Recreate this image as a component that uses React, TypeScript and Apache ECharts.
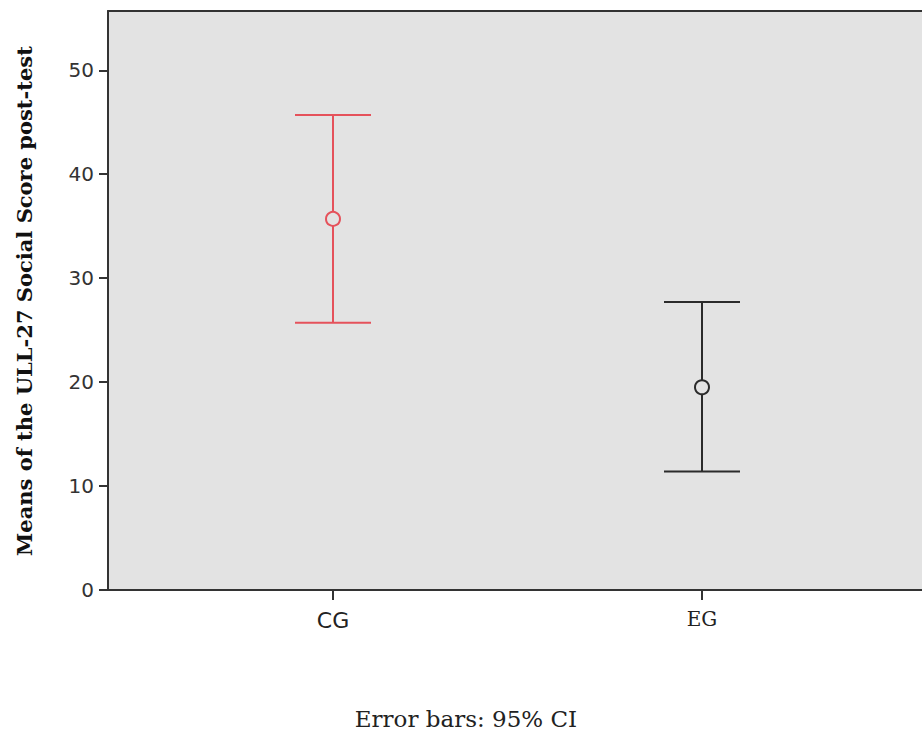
import React, { useEffect, useRef } from "react";
import * as echarts from "echarts";

const categories = ["CG", "EG"];
const means = [35.7, 19.5];
const lowerCI = [25.7, 11.4];
const upperCI = [45.7, 27.7];
const yTicks = [0, 10, 20, 30, 40, 50];
const groupColors = ["#e5525b", "#2b2b2b"];

export default function App() {
  const ref = useRef<HTMLDivElement>(null);
  useEffect(() => {
    if (!ref.current) return;
    const chart = echarts.init(ref.current, null, { renderer: "svg" });
    const xs = categories.map((_, i) => i + 1);
    const option: any = {
      animation: false,
      backgroundColor: "#ffffff",
      grid: {
        left: 108,
        top: 11,
        right: 0,
        bottom: 143,
        show: true,
        backgroundColor: "#e3e3e3",
        borderWidth: 0,
      },
      xAxis: [
        {
          type: "value",
          min: 1 - 225 / 369,
          max: 2 + 220 / 369,
          splitLine: { show: false },
          axisLine: { show: true, lineStyle: { color: "#333333", width: 2 } },
          axisTick: { show: true, length: 10, customValues: xs, lineStyle: { color: "#333333", width: 2 } },
          axisLabel: {
            customValues: xs,
            margin: 19,
            formatter: (v: number) => {
              const i = Math.round(v) - 1;
              return i === 0 ? "{a|" + categories[i] + "}" : "{b|" + categories[i] + "}";
            },
            rich: {
              a: { fontFamily: "DejaVu Sans", fontSize: 22, color: "#222" },
              b: { fontFamily: "DejaVu Serif", fontSize: 20, color: "#222" },
            },
          },
        },
        {
          type: "value",
          position: "top",
          min: 1 - 225 / 369,
          max: 2 + 220 / 369,
          splitLine: { show: false },
          axisLine: { show: true, lineStyle: { color: "#333333", width: 2 } },
          axisTick: { show: false },
          axisLabel: { show: false },
        },
      ],
      yAxis: {
        type: "value",
        min: 0,
        max: 55.7,
        interval: 10,
        splitLine: { show: false },
        axisLine: { show: true, lineStyle: { color: "#333333", width: 2 } },
        axisTick: { show: true, length: 9, customValues: yTicks, lineStyle: { color: "#333333", width: 2 } },
        axisLabel: {
          customValues: yTicks,
          margin: 14,
          fontFamily: "DejaVu Sans",
          fontSize: 20,
          color: "#333",
        },
      },
      series: [
        {
          type: "custom",
          xAxisIndex: 0,
          data: xs.map((x, i) => [x, lowerCI[i], upperCI[i], means[i]]),
          renderItem: (params: any, api: any) => {
            const i = params.dataIndex;
            const x = api.value(0);
            const lo = api.coord([x, api.value(1)]);
            const hi = api.coord([x, api.value(2)]);
            const mid = api.coord([x, api.value(3)]);
            const half = 38;
            const r = 7;
            const style = { stroke: groupColors[i], lineWidth: 2, fill: "none" };
            return {
              type: "group",
              children: [
                { type: "line", shape: { x1: lo[0], y1: lo[1], x2: lo[0], y2: mid[1] + r }, style },
                { type: "line", shape: { x1: hi[0], y1: hi[1], x2: hi[0], y2: mid[1] - r }, style },
                { type: "line", shape: { x1: lo[0] - half, y1: lo[1], x2: lo[0] + half, y2: lo[1] }, style },
                { type: "line", shape: { x1: hi[0] - half, y1: hi[1], x2: hi[0] + half, y2: hi[1] }, style },
                { type: "circle", shape: { cx: mid[0], cy: mid[1], r }, style },
              ],
            };
          },
        },
      ],
      graphic: [
        {
          type: "text",
          x: 24,
          y: 301,
          rotation: Math.PI / 2,
          style: {
            text: "Means of the ULL-27 Social Score post-test",
            fontFamily: "DejaVu Serif",
            fontWeight: "bold",
            fontSize: 21,
            fill: "#111",
            textAlign: "center",
            textVerticalAlign: "middle",
          },
        },
        {
          type: "text",
          x: 466,
          y: 719,
          style: {
            text: "Error bars: 95% CI",
            fontFamily: "DejaVu Serif",
            fontSize: 23,
            fill: "#222",
            textAlign: "center",
            textVerticalAlign: "middle",
          },
        },
      ],
    };
    chart.setOption(option);
    return () => chart.dispose();
  }, []);
  return (
    <div
      ref={ref}
      style={{ position: "absolute", left: 0, top: 0, width: 922, height: 733, overflow: "hidden" }}
    />
  );
}
